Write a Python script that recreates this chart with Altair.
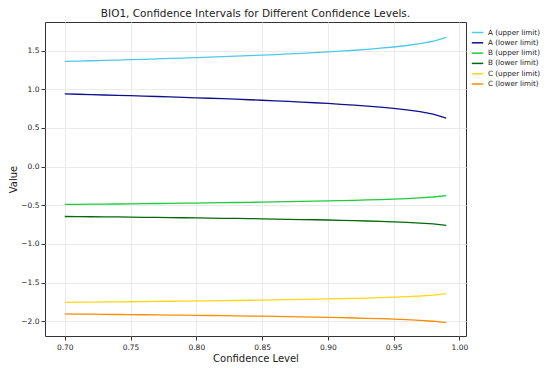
import altair as alt
import pandas as pd

levels = [0.70, 0.71, 0.72, 0.73, 0.74, 0.75, 0.76, 0.77, 0.78, 0.79,
          0.80, 0.81, 0.82, 0.83, 0.84, 0.85, 0.86, 0.87, 0.88, 0.89,
          0.90, 0.91, 0.92, 0.93, 0.94, 0.95, 0.96, 0.97, 0.98, 0.99]

a_upper = [1.360, 1.364, 1.369, 1.374, 1.378, 1.383, 1.388, 1.393, 1.399, 1.404,
           1.410, 1.416, 1.422, 1.428, 1.435, 1.442, 1.449, 1.457, 1.465, 1.474,
           1.483, 1.494, 1.505, 1.517, 1.531, 1.547, 1.566, 1.590, 1.621, 1.672]
a_lower = [0.940, 0.936, 0.931, 0.926, 0.922, 0.917, 0.912, 0.907, 0.901, 0.896,
           0.890, 0.884, 0.878, 0.872, 0.865, 0.858, 0.851, 0.843, 0.835, 0.826,
           0.817, 0.806, 0.795, 0.783, 0.769, 0.753, 0.734, 0.710, 0.679, 0.628]
b_upper = [-0.489, -0.488, -0.486, -0.484, -0.483, -0.481, -0.479, -0.477, -0.475, -0.473,
           -0.471, -0.469, -0.466, -0.464, -0.462, -0.459, -0.456, -0.453, -0.450, -0.447,
           -0.444, -0.440, -0.436, -0.431, -0.426, -0.420, -0.413, -0.404, -0.393, -0.374]
b_lower = [-0.645, -0.646, -0.648, -0.650, -0.651, -0.653, -0.655, -0.657, -0.659, -0.661,
           -0.663, -0.665, -0.668, -0.670, -0.672, -0.675, -0.678, -0.681, -0.684, -0.687,
           -0.690, -0.694, -0.698, -0.703, -0.708, -0.714, -0.721, -0.730, -0.741, -0.760]
c_upper = [-1.755, -1.753, -1.752, -1.750, -1.748, -1.747, -1.745, -1.743, -1.741, -1.739,
           -1.737, -1.735, -1.733, -1.731, -1.728, -1.726, -1.723, -1.720, -1.717, -1.714,
           -1.711, -1.707, -1.703, -1.699, -1.694, -1.688, -1.681, -1.673, -1.661, -1.643]
c_lower = [-1.905, -1.907, -1.908, -1.910, -1.912, -1.913, -1.915, -1.917, -1.919, -1.921,
           -1.923, -1.925, -1.927, -1.929, -1.932, -1.934, -1.937, -1.940, -1.943, -1.946,
           -1.949, -1.953, -1.957, -1.961, -1.966, -1.972, -1.979, -1.987, -1.999, -2.017]

series_names = ["A (upper limit)", "A (lower limit)", "B (upper limit)",
                "B (lower limit)", "C (upper limit)", "C (lower limit)"]
series_values = [a_upper, a_lower, b_upper, b_lower, c_upper, c_lower]
series_colors = ["#4FC8EC", "#10108C", "#1ECC3A", "#006A0A", "#FFD814", "#FF8C00"]

x_ticks = [0.70, 0.75, 0.80, 0.85, 0.90, 0.95, 1.00]
y_ticks = [-2.0, -1.5, -1.0, -0.5, 0.0, 0.5, 1.0, 1.5]

rows = []
for name, vals in zip(series_names, series_values):
    for lv, v in zip(levels, vals):
        rows.append({"level": lv, "value": v, "series": name})
df = pd.DataFrame(rows)

font = "DejaVu Sans"

chart = alt.Chart(df).mark_line(strokeWidth=1.3).encode(
    x=alt.X("level:Q", title="Confidence Level",
            scale=alt.Scale(domain=[0.685, 1.005], nice=False, zero=False),
            axis=alt.Axis(values=x_ticks, format=".2f", labelFontSize=7.5,
                          titleFontSize=10, titleFontWeight="normal", titlePadding=3,
                          tickSize=4, labelPadding=3, tickColor="#333", labelColor="#222",
                          titleColor="#222", domain=False, gridColor="#ebebeb",
                          labelFont=font, titleFont=font)),
    y=alt.Y("value:Q", title="Value",
            scale=alt.Scale(domain=[-2.19, 1.87], nice=False, zero=False),
            axis=alt.Axis(values=y_ticks, format=".1f", labelFontSize=7.5,
                          titleFontSize=10, titleFontWeight="normal", titlePadding=2,
                          tickSize=4, labelPadding=2, tickColor="#333", labelColor="#222",
                          titleColor="#222", domain=False, gridColor="#ebebeb",
                          labelFont=font, titleFont=font)),
    color=alt.Color("series:N", sort=series_names,
                    scale=alt.Scale(domain=series_names, range=series_colors),
                    legend=alt.Legend(title=None, orient="none", legendX=426, legendY=4,
                                      symbolType="stroke",
                                      symbolSize=130, symbolStrokeWidth=1.5,
                                      labelFontSize=7.2, labelFont=font, labelOffset=4,
                                      labelColor="#222", rowPadding=0.3,
                                      padding=0)),
    order=alt.Order("level:Q"),
).properties(
    width=421, height=314,
    title=alt.TitleParams("BIO1, Confidence Intervals for Different Confidence Levels.",
                          fontSize=10.5, fontWeight="normal", font=font,
                          color="#222", offset=3),
    padding={"left": 0, "top": 0, "right": 0, "bottom": 0},
).configure_view(
    stroke="#333", strokeWidth=1
)

chart.save("out.html", embed_options={"renderer": "svg", "actions": False})
